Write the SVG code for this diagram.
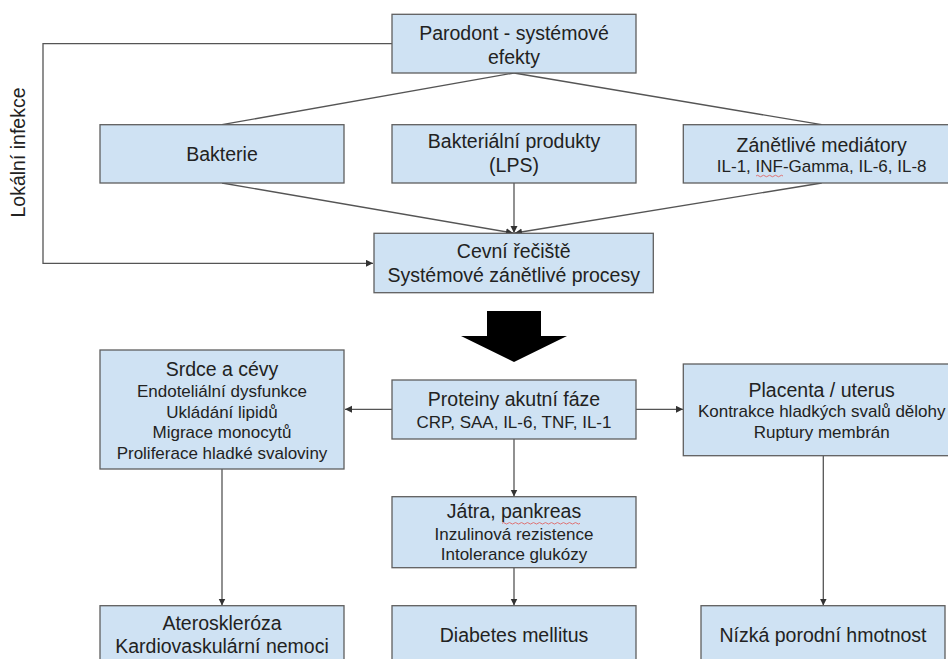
<svg xmlns="http://www.w3.org/2000/svg" width="948" height="659" viewBox="0 0 948 659">
<defs>
<style>
.box{fill:#cfe2f3;stroke:#5f5f5f;stroke-width:1.3}
.t{font-family:"Liberation Sans",Arial,sans-serif;font-size:19.5px;fill:#222;text-anchor:middle}
.s{font-family:"Liberation Sans",Arial,sans-serif;font-size:17px;fill:#222;text-anchor:middle}
.c{fill:none;stroke:#555;stroke-width:1.3}
.sq{fill:none;stroke:#e06666;stroke-width:0.9}
</style>
<marker id="ah" markerUnits="userSpaceOnUse" markerWidth="8" markerHeight="8" refX="7" refY="3.5" orient="auto">
<path d="M0,0 L7,3.5 L0,7 z" fill="#333"/>
</marker>
</defs>
<rect width="948" height="659" fill="#fff"/>
<g id="connectors">
<path class="c" d="M392,43.7 H43 V263.3 H373" marker-end="url(#ah)"/>
<path class="c" d="M514,73 L222,124.7"/>
<path class="c" d="M514,73 L821.7,124.7"/>
<path class="c" d="M222,183 L513,233" marker-end="url(#ah)"/>
<path class="c" d="M514,183 L514,233" marker-end="url(#ah)"/>
<path class="c" d="M821.7,183 L515,233" marker-end="url(#ah)"/>
<path class="c" d="M392,409.3 L345,409.3" marker-end="url(#ah)"/>
<path class="c" d="M636,409.3 L683,409.3" marker-end="url(#ah)"/>
<path class="c" d="M514,439 L514,496.5" marker-end="url(#ah)"/>
<path class="c" d="M514,567.7 L514,605.5" marker-end="url(#ah)"/>
<path class="c" d="M222,469 L222,605.5" marker-end="url(#ah)"/>
<path class="c" d="M823.3,455.7 L823.3,605.5" marker-end="url(#ah)"/>
<polygon points="487,311 541,311 541,336 567,336 514,362 461,336 487,336" fill="#000"/>
</g>
<g id="lokalni">
<text class="t" transform="translate(24.5,152.5) rotate(-90)">Lokální infekce</text>
</g>
<g id="parodont">
<rect class="box" x="392" y="14.3" width="244" height="58.7"/>
<text class="t" x="514" y="39.5">Parodont - systémové</text>
<text class="t" x="514" y="63.5">efekty</text>
</g>
<g id="bakterie">
<rect class="box" x="100" y="124.7" width="244" height="58.3"/>
<text class="t" x="222" y="160.7">Bakterie</text>
</g>
<g id="produkty">
<rect class="box" x="392" y="124.7" width="244" height="58.3"/>
<text class="t" x="514" y="148.3">Bakteriální produkty</text>
<text class="t" x="514" y="171.7">(LPS)</text>
</g>
<g id="mediatory">
<rect class="box" x="683.3" y="124.7" width="278" height="58.3"/>
<text class="t" x="821.7" y="151.7">Zánětlivé mediátory</text>
<text class="s" x="821.7" y="171.7">IL-1, INF-Gamma, IL-6, IL-8</text>
<path class="sq" d="M756,176 q1.5,-1.5 3,0 t3,0 t3,0 t3,0 t3,0 t3,0 t3,0 t3,0 t3,0"/>
</g>
<g id="cevni">
<rect class="box" x="374" y="233.3" width="279.3" height="59.4"/>
<text class="t" x="513.7" y="258">Cevní řečiště</text>
<text class="t" x="513.7" y="282.2">Systémové zánětlivé procesy</text>
</g>
<g id="srdce">
<rect class="box" x="100" y="350" width="244" height="119"/>
<text class="t" x="222" y="376">Srdce a cévy</text>
<text class="s" x="222" y="397.3">Endoteliální dysfunkce</text>
<text class="s" x="222" y="417.8">Ukládání lipidů</text>
<text class="s" x="222" y="438.4">Migrace monocytů</text>
<text class="s" x="222" y="459">Proliferace hladké svaloviny</text>
</g>
<g id="proteiny">
<rect class="box" x="392" y="380" width="244" height="59"/>
<text class="t" x="514" y="406">Proteiny akutní fáze</text>
<text class="s" x="514" y="427.7">CRP, SAA, IL-6, TNF, IL-1</text>
</g>
<g id="placenta">
<rect class="box" x="683.3" y="364" width="278" height="91.7"/>
<text class="t" x="821.7" y="396.7">Placenta / uterus</text>
<text class="s" x="821.7" y="417.3">Kontrakce hladkých svalů dělohy</text>
<text class="s" x="821.7" y="437.8">Ruptury membrán</text>
</g>
<g id="jatra">
<rect class="box" x="392" y="496.7" width="244" height="71"/>
<text class="t" x="514" y="518.3">Játra, pankreas</text>
<text class="s" x="514" y="540">Inzulinová rezistence</text>
<text class="s" x="514" y="560">Intolerance glukózy</text>
<path class="sq" d="M502,523.3 q1.5,-1.5 3,0 t3,0 t3,0 t3,0 t3,0 t3,0 t3,0 t3,0 t3,0 t3,0 t3,0 t3,0 t3,0 t3,0 t3,0 t3,0 t3,0 t3,0 t3,0 t3,0 t3,0 t3,0 t3,0 t3,0 t3,0 t3,0"/>
</g>
<g id="ateroskleroza">
<rect class="box" x="100" y="605.7" width="244" height="70"/>
<text class="t" x="222" y="630">Ateroskleróza</text>
<text class="t" x="222" y="653.3">Kardiovaskulární nemoci</text>
</g>
<g id="diabetes">
<rect class="box" x="392" y="605.7" width="244" height="70"/>
<text class="t" x="514" y="641.7">Diabetes mellitus</text>
</g>
<g id="nizka">
<rect class="box" x="701" y="605.7" width="244" height="70"/>
<text class="t" x="823" y="641.7">Nízká porodní hmotnost</text>
</g>
</svg>
